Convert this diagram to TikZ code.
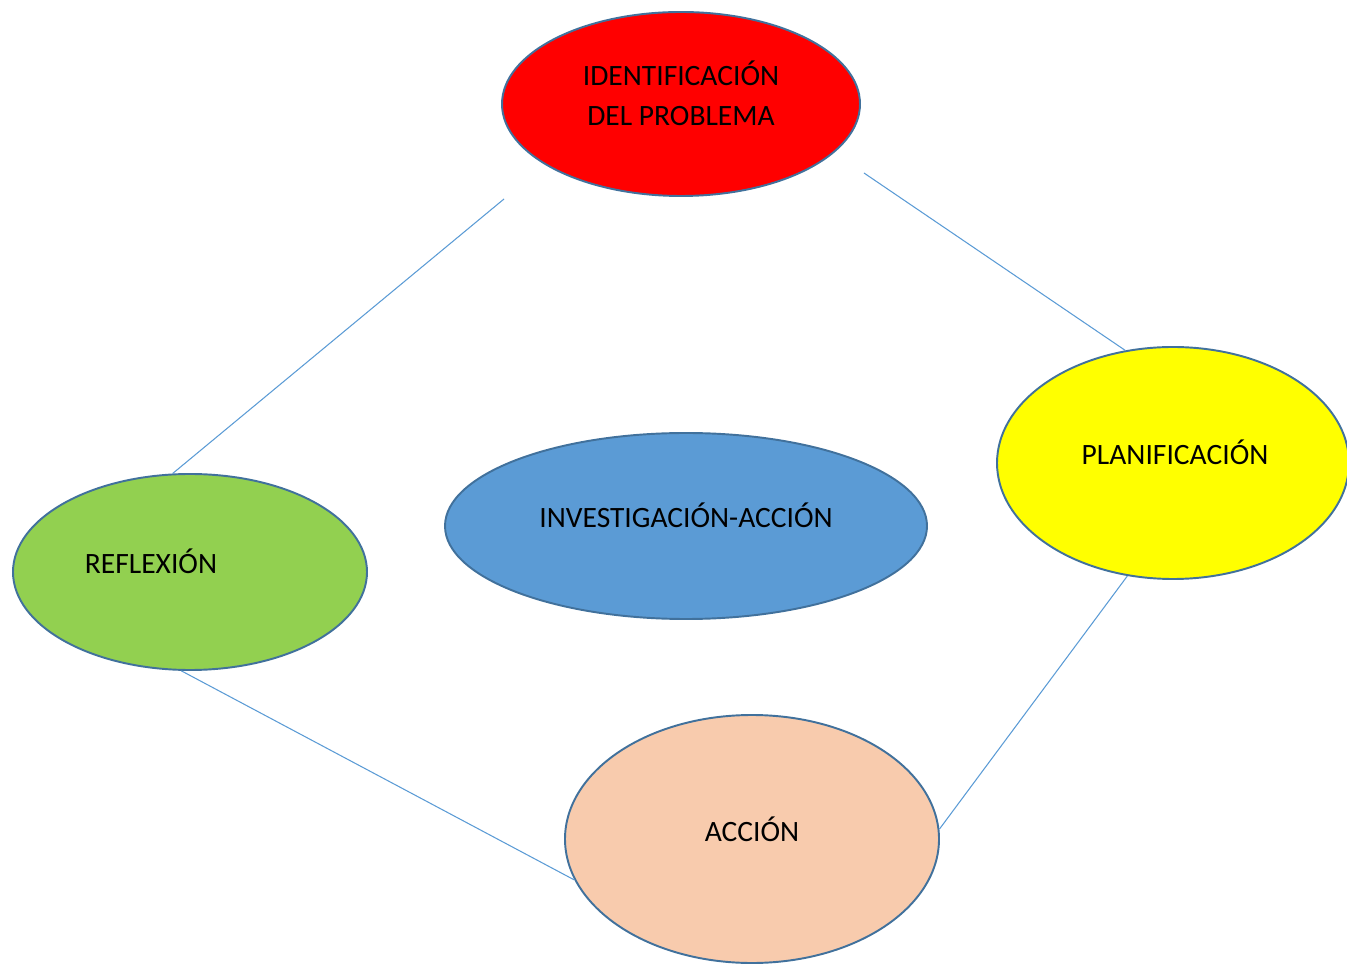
\documentclass[tikz,border=0pt]{standalone}
\usepackage{fontspec}
\setmainfont{Carlito}
\usetikzlibrary{shapes.geometric}
\definecolor{rimblue}{RGB}{65,113,156}
\definecolor{linkblue}{RGB}{91,155,213}
\definecolor{cyclered}{RGB}{255,0,0}
\definecolor{cycleyellow}{RGB}{255,255,0}
\definecolor{cyclegreen}{RGB}{146,208,80}
\definecolor{cyclepeach}{RGB}{248,203,173}
\begin{document}
\begin{tikzpicture}[bubble/.style={ellipse,draw=rimblue,line width=1.1pt,inner sep=0pt},
  caption/.style={font=\fontsize{16.8}{22.7}\selectfont,align=center,inner sep=0pt},
  link/.style={linkblue,line width=0.6pt}]
  \useasboundingbox (0,0) rectangle (26.94,19.28);
  \node[bubble,fill=cyclered,minimum width=7.16cm,minimum height=3.68cm] (IP) at (13.62,17.2) {};
  \node[bubble,fill=cycleyellow,minimum width=7.04cm,minimum height=4.64cm] (PL) at (23.46,10.02) {};
  \node[bubble,fill=cyclegreen,minimum width=7.08cm,minimum height=3.92cm] (RE) at (3.8,7.84) {};
  \node[bubble,fill=linkblue,minimum width=9.64cm,minimum height=3.72cm] (IA) at (13.72,8.76) {};
  \node[bubble,fill=cyclepeach,minimum width=7.48cm,minimum height=4.96cm] (AC) at (15.04,2.5) {};
  % texts
  \node[caption] (IPt) at (13.62,17.42) {IDENTIFICACIÓN\\DEL PROBLEMA};
  \node[caption] (PLt) at (23.5,10.24) {PLANIFICACIÓN};
  \node[caption] (REt) at (3.02,8.06) {REFLEXIÓN};
  \node[caption] (IAt) at (13.72,8.98) {INVESTIGACIÓN-ACCIÓN};
  \node[caption] (ACt) at (15.04,2.7) {ACCIÓN};
  % links
  \coordinate (IPsw) at ([shift={(0.06,-0.04)}]IP.south -| IP.west);
  \coordinate (IPse) at ([shift={(0.06,-1.38)}]IP.east);
  \draw[link] (IPsw) -- (RE.100);
  \draw[link] (IPse) -- (PL.113);
  \draw[link] (PL.248) -- (AC.3);
  \draw[link] (RE.265) -- (AC.193);
\end{tikzpicture}
\end{document}
